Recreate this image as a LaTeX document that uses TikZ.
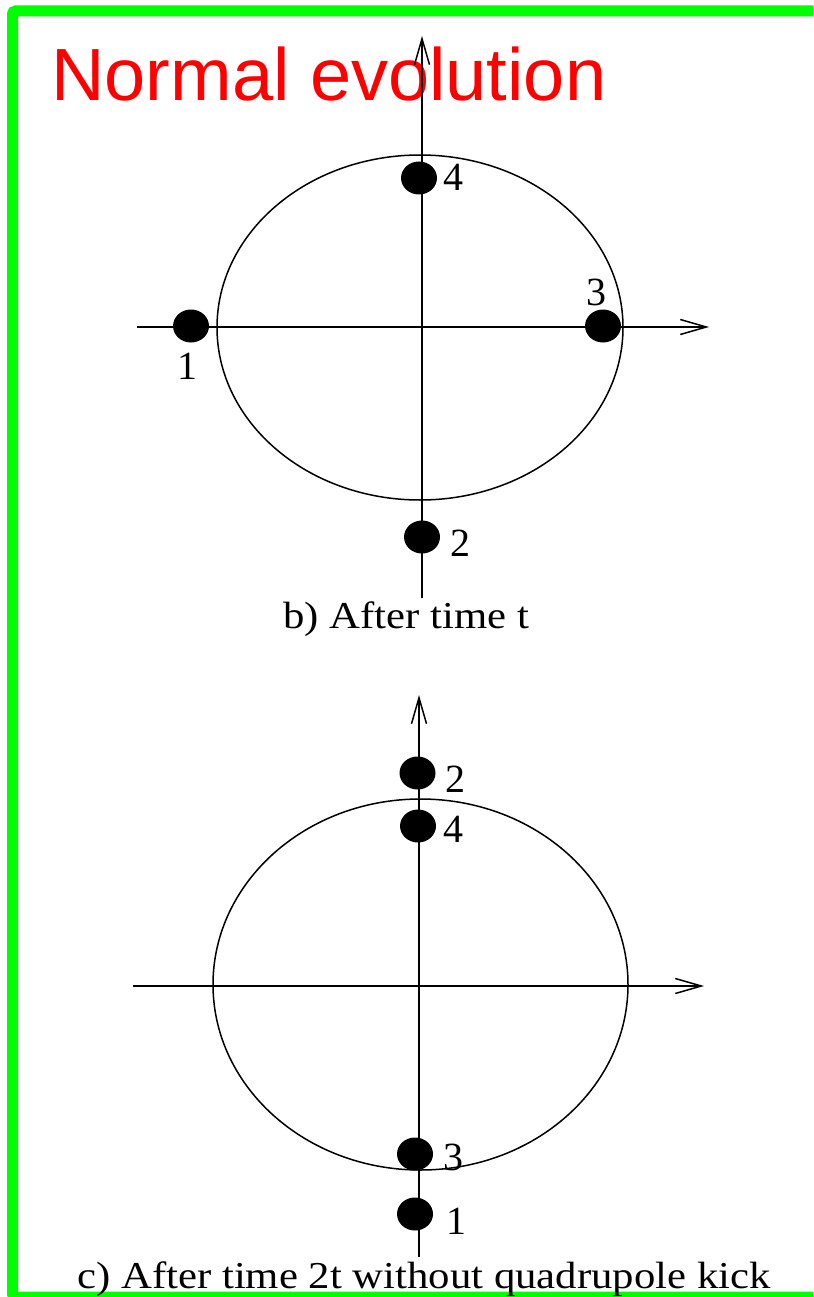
\documentclass[tikz,border=0pt]{standalone}
\usepackage{fontspec}
\setmainfont{Liberation Serif}
\newfontfamily\titlefont{Liberation Sans}
\usetikzlibrary{arrows.meta,shapes.geometric}
\definecolor{bordergreen}{RGB}{0,255,0}
\definecolor{titlered}{RGB}{255,0,0}
\begin{document}
\begin{tikzpicture}[x=1pt,y=-1pt,
  axis/.style={line width=1.5pt,-{Straight Barb[length=26pt,width=15pt,line width=1.5pt]}},
  orbit/.style={line width=1.5pt},
  particle/.style={ellipse,fill=black,minimum width=36pt,minimum height=33pt,inner sep=0pt},
  numlabel/.style={font=\fontsize{40}{42}\selectfont,inner sep=0pt},
  captiontext/.style={font=\fontsize{38}{40}\selectfont,anchor=base,inner sep=0pt}]
\useasboundingbox (0,0) rectangle (813,1297);
\clip (0,0) rectangle (813,1297);
\fill[white] (0,0) rectangle (813,1297);

% green frame
\draw[bordergreen,line width=11pt,rounded corners=3pt] (12.5,11) rectangle (840,1297);

% title
\node[anchor=base west,text=titlered,font=\titlefont\fontsize{74}{80}\selectfont,inner sep=0pt] (title) at (51,101) {Normal evolution};

% ---------- diagram b ----------
\coordinate (bS) at (422,598);
\coordinate (bN) at (422,36);
\coordinate (bW) at (137,327);
\coordinate (bE) at (709,327);
\draw[axis] (bS) -- (bN);
\draw[axis] (bW) -- (bE);
\draw[orbit] (420,327.5) ellipse [x radius=203pt,y radius=172.5pt];

\node[particle] (b1) at (191,326) {};
\node[numlabel] (b1l) at (187,366) {1};
\node[particle] (b3) at (603,326) {};
\node[numlabel] (b3l) at (596,292) {3};
\node[particle] (b4) at (419,178) {};
\node[numlabel] (b4l) at (453,177) {4};
\node[particle] (b2) at (422,537) {};
\node[numlabel] (b2l) at (460,543) {2};

\node[captiontext] (bcap) at (406,628) {\scalebox{1.125}[1]{b) After time t}};

% ---------- diagram c ----------
\coordinate (cS) at (419,1257);
\coordinate (cN) at (419,695);
\coordinate (cW) at (133,986);
\coordinate (cE) at (704,986);
\draw[axis] (cS) -- (cN);
\draw[axis] (cW) -- (cE);
\draw[orbit] (420.5,984.5) ellipse [x radius=207.5pt,y radius=185.5pt];

\node[particle] (c2) at (417.5,773) {};
\node[numlabel] (c2l) at (455,779) {2};
\node[particle] (c4) at (418,826) {};
\node[numlabel] (c4l) at (453,829) {4};
\node[particle] (c3) at (415,1154) {};
\node[numlabel] (c3l) at (453,1157) {3};
\node[particle] (c1) at (415,1214) {};
\node[numlabel] (c1l) at (456,1221) {1};

\node[captiontext] (ccap) at (424,1288) {\scalebox{1.125}[1]{c) After time 2t without quadrupole kick}};
\end{tikzpicture}
\end{document}
